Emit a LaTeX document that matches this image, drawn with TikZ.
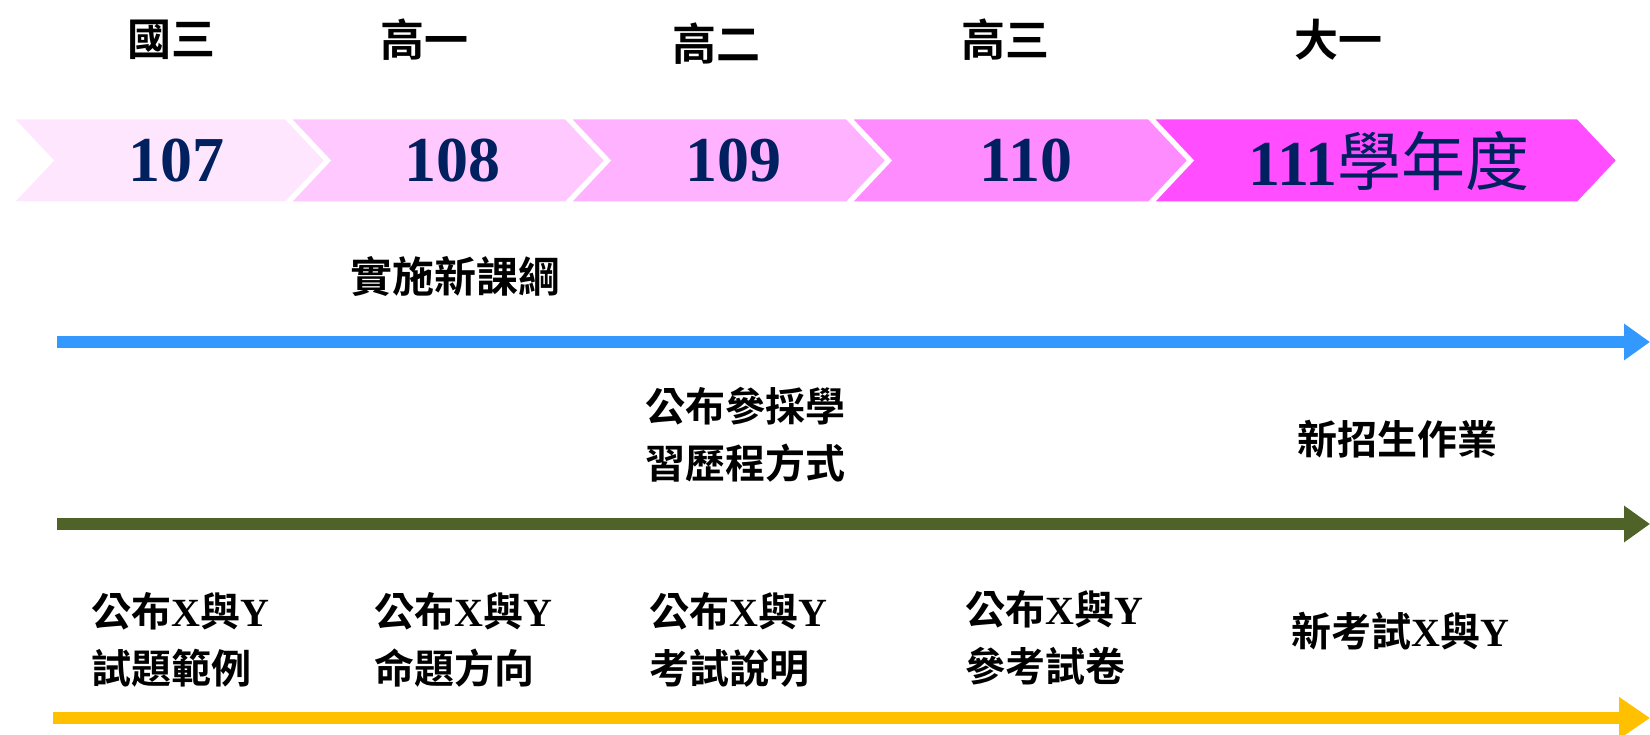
\documentclass[tikz,border=0pt]{standalone}
\usepackage{fontspec}
\setmainfont{Liberation Serif}
\newfontfamily\cjkfont{Noto Sans CJK TC}[BoldFont={* Bold}]
\newcommand{\zh}[1]{{\cjkfont\bfseries #1}}
\newcommand{\zhr}[1]{{\cjkfont\mdseries #1}}
\usetikzlibrary{arrows.meta}
\definecolor{navy}{HTML}{002060}
\definecolor{cA}{HTML}{FFE6FF}
\definecolor{cB}{HTML}{FFC8FF}
\definecolor{cC}{HTML}{FFB2FF}
\definecolor{cD}{HTML}{FF8CFF}
\definecolor{cE}{HTML}{FF4DFF}
\definecolor{lblue}{HTML}{3399FF}
\definecolor{lgreen}{HTML}{4F6228}
\definecolor{lyellow}{HTML}{FFC000}
\tikzset{
  yr/.style={inner sep=0pt, font=\fontsize{44}{50}\selectfont\bfseries},
  num/.style={inner sep=0pt, text=navy, font=\fontsize{64}{70}\selectfont\bfseries},
  lbl/.style={inner sep=0pt, align=left, font=\fontsize{40}{57}\selectfont\bfseries},
  chev/.style={draw=white, line width=3pt, line join=miter},
  tl/.style={line width=12pt, -{Triangle[length=26pt,width=35pt]}},
}
\begin{document}
\begin{tikzpicture}[x=1pt,y=-1pt]
\useasboundingbox (0,0) rectangle (1650,735);
% chevrons
\filldraw[chev, fill=cA] (12,118) -- (286,118) -- (326,160.5) -- (286,203) -- (12,203) -- (52,160.5) -- cycle;
\filldraw[chev, fill=cB] (289,118) -- (566,118) -- (606,160.5) -- (566,203) -- (289,203) -- (329,160.5) -- cycle;
\filldraw[chev, fill=cC] (569,118) -- (847,118) -- (887,160.5) -- (847,203) -- (569,203) -- (609,160.5) -- cycle;
\filldraw[chev, fill=cD] (850,118) -- (1149,118) -- (1189,160.5) -- (1149,203) -- (850,203) -- (890,160.5) -- cycle;
\filldraw[chev, fill=cE] (1152,118) -- (1578,118) -- (1618,160.5) -- (1578,203) -- (1152,203) -- (1192,160.5) -- cycle;
% years
\node[num] (n1) at (176,161) {107};
\node[num] (n2) at (452,161) {108};
\node[num] (n3) at (733,161) {109};
\node[num] (n4) at (1026,161) {110};
\node[num] (n5) at (1389,161) {111\zhr{學年度}};
% grade labels
\node[yr] (g1) at (171,40) {\zh{國三}};
\node[yr] (g2) at (424,40) {\zh{高一}};
\node[yr] (g3) at (716,44) {\zh{高二}};
\node[yr] (g4) at (1005,40) {\zh{高三}};
\node[yr] (g5) at (1338,40) {\zh{大一}};
% timeline arrows
\coordinate (b0) at (57,342); \coordinate (b1) at (1650,342);
\coordinate (e0) at (57,524); \coordinate (e1) at (1650,524);
\coordinate (y0) at (53,718); \coordinate (y1) at (1650,718);
\draw[tl, lblue] (b0) -- (b1);
\draw[tl, lgreen] (e0) -- (e1);
\draw[tl, lyellow, -{Triangle[length=31pt,width=40pt]}] (y0) -- (y1);
% labels
\node[lbl, font=\fontsize{42}{50}\selectfont\bfseries] (t1) at (455,276) {\zh{實施新課綱}};
\node[lbl] (t2) at (745,435) {\zh{公布參採學}\\\zh{習歷程方式}};
\node[lbl] (t3) at (1397,439) {\zh{新招生作業}};
\node[lbl, anchor=west] (u1) at (91,640) {\zh{公布}X\zh{與}Y\\\zh{試題範例}};
\node[lbl, anchor=west] (u2) at (374,640) {\zh{公布}X\zh{與}Y\\\zh{命題方向}};
\node[lbl, anchor=west] (u3) at (649,640) {\zh{公布}X\zh{與}Y\\\zh{考試說明}};
\node[lbl, anchor=west] (u4) at (965,638) {\zh{公布}X\zh{與}Y\\\zh{參考試卷}};
\node[lbl, anchor=west] (u5) at (1291,631) {\zh{新考試}X\zh{與}Y};
\end{tikzpicture}
\end{document}
